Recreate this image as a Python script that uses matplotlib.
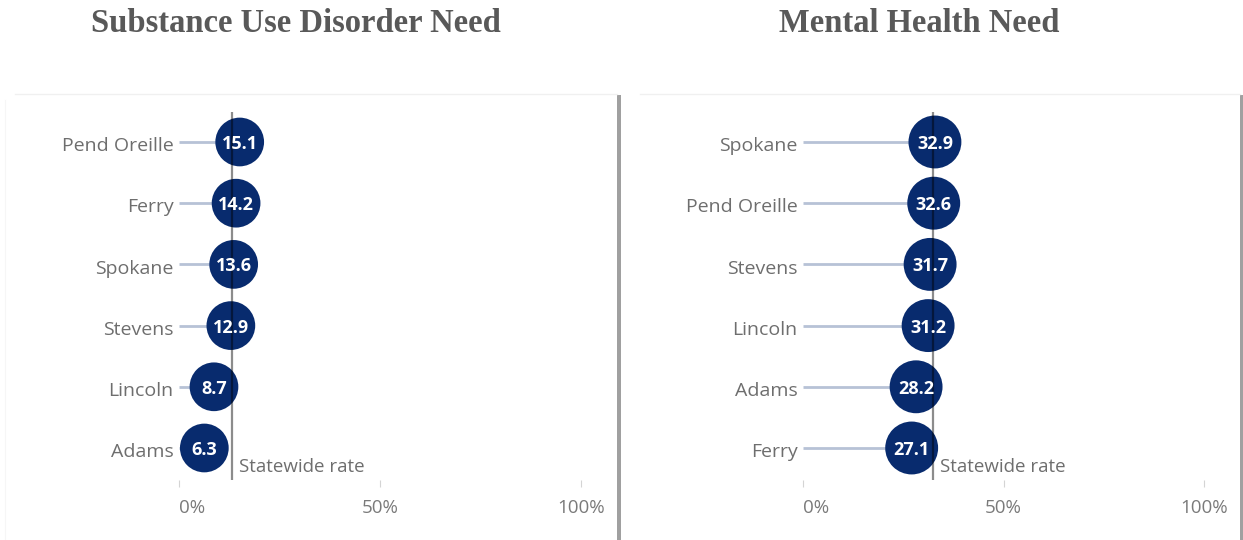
import matplotlib
matplotlib.use("Agg")
import matplotlib.pyplot as plt
from matplotlib.lines import Line2D
from matplotlib.patches import Rectangle

# ---- data ----
sud_counties = ["Pend Oreille", "Ferry", "Spokane", "Stevens", "Lincoln", "Adams"]
sud_values = [15.1, 14.2, 13.6, 12.9, 8.7, 6.3]
sud_statewide = 13.2

mh_counties = ["Spokane", "Pend Oreille", "Stevens", "Lincoln", "Adams", "Ferry"]
mh_values = [32.9, 32.6, 31.7, 31.2, 28.2, 27.1]
mh_statewide = 32.4

titles = ["Substance Use Disorder Need", "Mental Health Need"]
x_ticks = [0, 50, 100]
x_tick_labels = ["0%", "50%", "100%"]
statewide_label = "Statewide rate"

W, H = 1243, 540
fig = plt.figure(figsize=(W / 100, H / 100), dpi=100)
fig.patch.set_facecolor("white")

NAVY = "#082b6e"
STEM = "#b7c2d6"
LABEL = "#6e6e6e"
SANS = ["Open Sans", "DejaVu Sans"]


def px_axes(x0, x1, y_top, y_bot):
    return [x0 / W, 1 - y_bot / H, (x1 - x0) / W, (y_bot - y_top) / H]


def panel(zero_px, scale, counties, values, statewide, msize, title, title_x):
    xmin, xmax = -10, 105
    ax = fig.add_axes(px_axes(zero_px + xmin * scale, zero_px + xmax * scale, 112, 480))
    ax.set_xlim(xmin, xmax)
    ybot, ytop = 5.523, -0.49
    ax.set_ylim(ybot, ytop)
    ys = list(range(len(counties)))
    ax.hlines(ys, 0, values, color=STEM, lw=2.0, zorder=1)
    ax.scatter(values, ys, s=msize, color=NAVY, zorder=2, edgecolors="none")
    ax.axvline(statewide, color="black", alpha=0.45, lw=1.6, zorder=3)
    for y, v, c in zip(ys, values, counties):
        ax.annotate(f"{v:.1f}", (v, y), xytext=(0, -1.5), textcoords="offset points",
                    color="white", fontsize=13, fontweight="bold",
                    family=SANS, ha="center", va="center", zorder=4)
        ax.annotate(c, (0, y), xytext=(-4, -3), textcoords="offset points",
                    ha="right", va="center", fontsize=14, color=LABEL, family=SANS)
    ax.annotate(statewide_label, (statewide, ybot), xytext=(5, 3), textcoords="offset points",
                ha="left", va="bottom", fontsize=13.5, color="#6e6e6e", family=SANS)
    for s in ax.spines.values():
        s.set_visible(False)
    ax.set_yticks([])
    ax.set_xticks(x_ticks)
    ax.set_xticklabels(x_tick_labels, family=SANS, fontsize=13.5, color="#7a7a7a")
    ax.tick_params(axis="x", length=5, width=0.8, color="#d4d4d4", pad=9)
    lbls = ax.get_xticklabels()
    lbls[0].set_ha("left")
    ax.patch.set_alpha(0)
    fig.text(title_x / W, 1 - 23 / H, title, ha="center", va="center",
             family=["Liberation Serif", "DejaVu Serif"], fontweight="bold",
             fontsize=23.5, color="#595959")
    return ax


panel(179, 4.02, sud_counties, sud_values, sud_statewide, 1230, titles[0], 296)
panel(803, 4.01, mh_counties, mh_values, mh_statewide, 1450, titles[1], 919)

# panel frames
def hline_px(x0, x1, y, color, lw):
    fig.add_artist(Line2D([x0 / W, x1 / W], [1 - y / H, 1 - y / H], color=color, lw=lw))

hline_px(15, 617, 93.5, "#f0f0f0", 1.0)
hline_px(640, 1240, 93.5, "#f0f0f0", 1.0)
fig.add_artist(Line2D([5 / W, 5 / W], [1 - 100 / H, 0], color="#f6f6f6", lw=0.8))
for x0, w in [(617, 4), (1240, 3)]:
    fig.add_artist(Rectangle((x0 / W, 0), w / W, 1 - 95 / H, transform=fig.transFigure,
                             color="#a0a0a0", lw=0))

fig.savefig("out.png", dpi=100, facecolor="white")
